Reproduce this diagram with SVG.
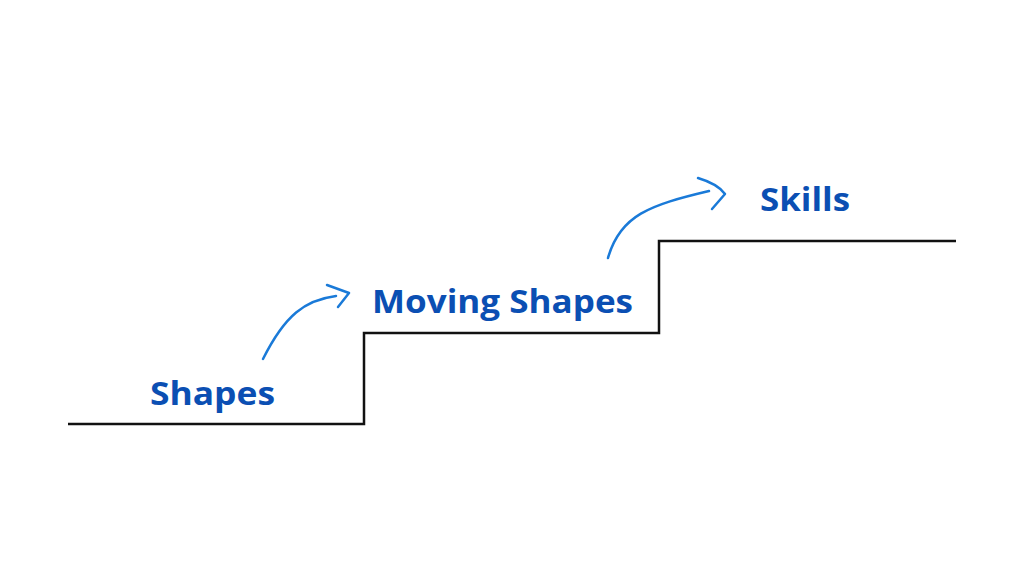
<svg xmlns="http://www.w3.org/2000/svg" width="1024" height="576" viewBox="0 0 1024 576">
<style>
.lbl{font-family:"Open Sans","Liberation Sans",sans-serif;font-weight:bold;font-size:32px;fill:#0b4fb3}
.arr{fill:none;stroke:#1a7ad8;stroke-width:2.5;stroke-linecap:round;stroke-linejoin:round}
</style>
<rect width="1024" height="576" fill="#fff"/>
<g id="stairs"><path d="M68,424 H364 V333 H659 V241 H956" fill="none" stroke="#111" stroke-width="2.5"/></g>
<g id="shapes"><text class="lbl" x="150" y="405" textLength="125" lengthAdjust="spacingAndGlyphs">Shapes</text></g>
<g id="moving-shapes"><text class="lbl" x="372" y="313" textLength="261" lengthAdjust="spacingAndGlyphs">Moving Shapes</text></g>
<g id="skills"><text class="lbl" x="760" y="211" textLength="90" lengthAdjust="spacingAndGlyphs">Skills</text></g>
<g id="connectors">
<path class="arr" d="M263,359 C285,315 305,300 336,296"/>
<path class="arr" d="M327,285 L349,293 L338,307"/>
<path class="arr" d="M608,258 C620,215 650,205 709,191"/>
<path class="arr" d="M698,178 Q718,184 725,194 L712,209"/>
</g>
</svg>
